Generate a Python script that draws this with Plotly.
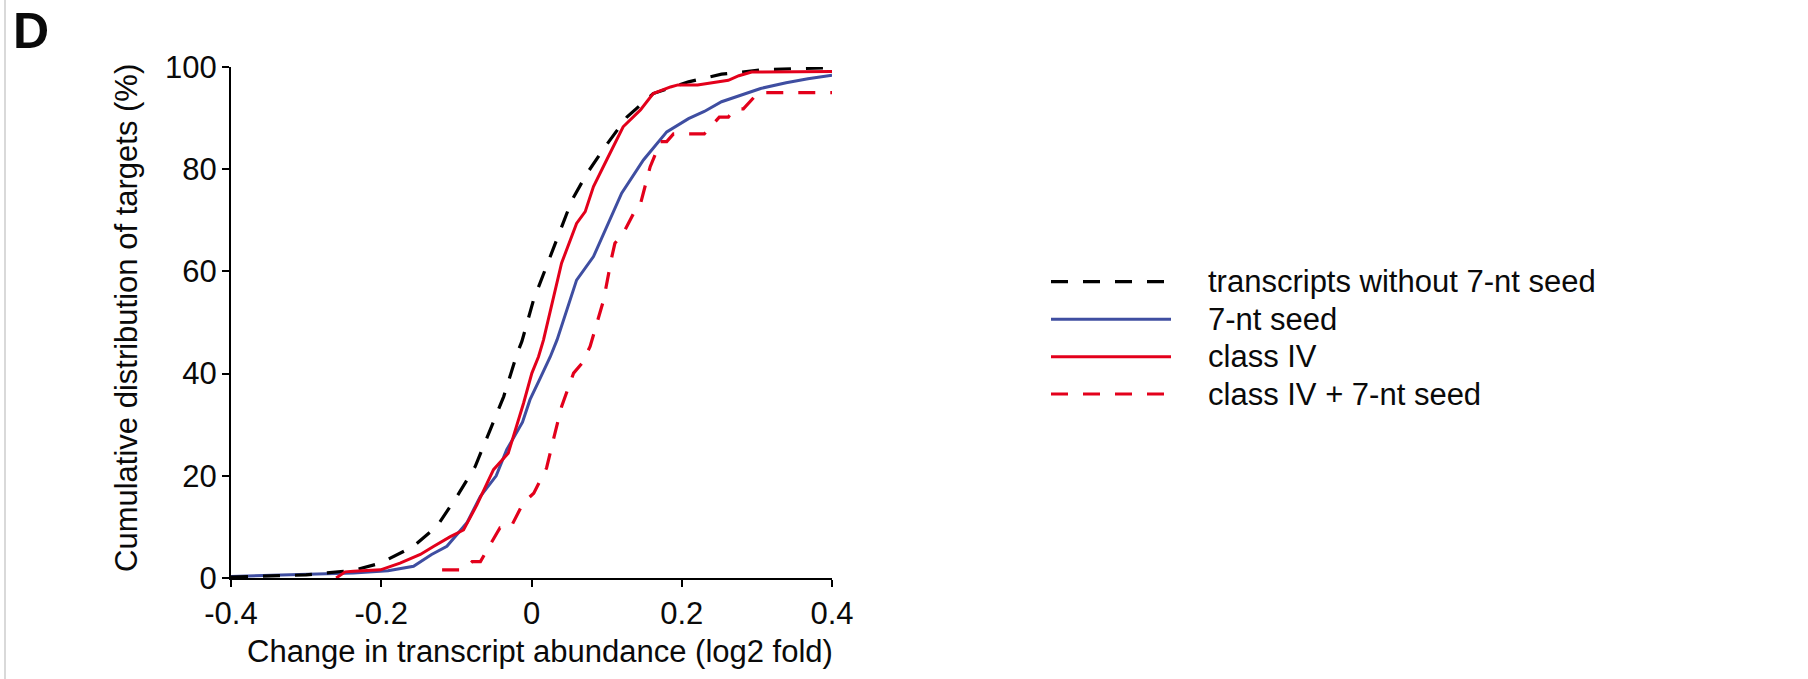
import plotly.graph_objects as go

# ---- data ----
x_without = [-0.4, -0.3, -0.237, -0.201, -0.157, -0.126, -0.099, -0.075, -0.055, -0.037, -0.019,
             -0.0128, 0.0027, 0.018, 0.036, 0.054, 0.074, 0.098, 0.127, 0.162, 0.209, 0.253, 0.311, 0.4]
y_without = [0.2, 0.6, 1.5, 2.9, 6.2, 10.1, 16.0, 21.8, 29.0, 35.5, 44.0,
             46.3, 54.4, 60.3, 67.4, 74.0, 79.2, 84.4, 90.2, 94.8, 97.1, 98.6, 99.5, 99.9]

x_seed = [-0.4, -0.352, -0.295, -0.237, -0.191, -0.157, -0.133, -0.1126, -0.086, -0.068, -0.047,
          -0.033, -0.012, -0.002, 0.011, 0.025, 0.034, 0.046, 0.06, 0.0825, 0.096, 0.12, 0.149, 0.18,
          0.209, 0.23, 0.253, 0.282, 0.305, 0.339, 0.368, 0.4]
y_seed = [0.3, 0.5, 0.7, 1.0, 1.4, 2.3, 4.6, 6.2, 10.8, 16.0, 20.0,
          25.1, 30.5, 34.9, 38.9, 43.3, 46.6, 52.2, 58.3, 62.9, 67.4, 75.3, 81.8, 87.3,
          89.9, 91.3, 93.2, 94.6, 95.8, 96.9, 97.7, 98.4]

x_class4 = [-0.26, -0.248, -0.237, -0.214, -0.201, -0.175, -0.148, -0.13, -0.108, -0.0905, -0.0727,
            -0.0506, -0.031, -0.0106, 0.0005, 0.0093, 0.016, 0.04, 0.06, 0.0715, 0.0825, 0.1,
            0.122, 0.145, 0.162, 0.185, 0.195, 0.221, 0.241, 0.262, 0.276, 0.293, 0.4]
y_class4 = [0.0, 1.2, 1.3, 1.4, 1.6, 2.9, 4.6, 6.2, 8.1, 9.4, 14.3,
            21.2, 24.4, 34.2, 40.1, 43.3, 46.6, 61.6, 69.4, 71.7, 76.6, 81.8,
            88.3, 91.6, 94.8, 96.1, 96.5, 96.5, 97.0, 97.4, 98.3, 99.0, 99.1]

x_class4_seed = [-0.119, -0.09, -0.079, -0.068, -0.046, -0.042, -0.028, -0.011, 0.003, 0.02, 0.029,
                 0.04, 0.056, 0.067, 0.078, 0.096, 0.107, 0.111, 0.122, 0.136, 0.144, 0.158, 0.167,
                 0.171, 0.18, 0.189, 0.23, 0.25, 0.262, 0.27, 0.282, 0.302, 0.4]
y_class4_seed = [1.6, 1.6, 3.2, 3.2, 8.8, 9.8, 9.8, 14.7, 16.6, 21.5, 27.0,
                 33.5, 40.1, 42.0, 45.3, 54.4, 62.9, 65.5, 67.4, 71.4, 72.6, 80.5, 83.7,
                 85.4, 85.4, 86.9, 86.9, 90.2, 90.2, 91.8, 91.8, 95.0, 95.0]

series_names = ["transcripts without 7-nt seed", "7-nt seed", "class IV", "class IV + 7-nt seed"]
x_ticks = [-0.4, -0.2, 0, 0.2, 0.4]
x_tick_labels = ["-0.4", "-0.2", "0", "0.2", "0.4"]
y_ticks = [0, 20, 40, 60, 80, 100]

# ---- styles ----
BLACK = "#000000"
BLUE = "#3f4ea1"
RED = "#e3001b"
TXT = "#0a0a0a"
FONT = "Liberation Sans, Arial, Helvetica, sans-serif"
FS = 31
styles = [
    dict(color=BLACK, width=3.2, dash="17px,15px"),
    dict(color=BLUE, width=3.0, dash="solid"),
    dict(color=RED, width=3.0, dash="solid"),
    dict(color=RED, width=3.2, dash="17px,15px"),
]
data = [(x_without, y_without), (x_seed, y_seed), (x_class4, y_class4), (x_class4_seed, y_class4_seed)]

W, H = 1808, 679
L, R, T, B = 231, 976, 67, 101
pw, ph = W - L - R, H - T - B

fig = go.Figure()
# draw order: blue, black, red dashed, red
for idx in [1, 0, 3, 2]:
    xs, ys = data[idx]
    fig.add_trace(go.Scatter(x=xs, y=ys, mode="lines", name=series_names[idx],
                             line=styles[idx], showlegend=False, hoverinfo="skip"))

def px_x(p):
    return (p - L) / pw

def px_y(p):
    return (H - B - p) / ph

shapes = []
annotations = []
# custom legend
legend_rows = [281.7, 319.3, 356.7, 394.0]
for i, name in enumerate(series_names):
    st = styles[i]
    shapes.append(dict(type="line", xref="paper", yref="paper",
                       x0=px_x(1051), x1=px_x(1171), y0=px_y(legend_rows[i]), y1=px_y(legend_rows[i]),
                       line=dict(color=st["color"], width=st["width"], dash=st["dash"])))
    annotations.append(dict(text=name, xref="paper", yref="paper", x=px_x(1206), y=px_y(legend_rows[i]),
                            xanchor="left", yanchor="middle", showarrow=False,
                            font=dict(family=FONT, size=FS, color=TXT)))

# left gray border line
shapes.append(dict(type="line", xref="paper", yref="paper", x0=px_x(5), x1=px_x(5),
                   y0=px_y(0), y1=px_y(H), line=dict(color="#d9d9d9", width=2)))

# panel letter
annotations.append(dict(text="<b>D</b>", xref="paper", yref="paper", x=px_x(11), y=px_y(31),
                        xanchor="left", yanchor="middle", showarrow=False,
                        font=dict(family=FONT, size=50, color=TXT)))
# axis titles
annotations.append(dict(text="Change in transcript abundance (log2 fold)", xref="paper", yref="paper",
                        x=px_x(540), y=px_y(652), xanchor="center", yanchor="middle", showarrow=False,
                        font=dict(family=FONT, size=FS, color=TXT)))
annotations.append(dict(text="Cumulative distribution of targets (%)", xref="paper", yref="paper",
                        x=px_x(126), y=px_y(318), xanchor="center", yanchor="middle", showarrow=False,
                        textangle=-90, font=dict(family=FONT, size=FS, color=TXT)))

fig.update_layout(
    width=W, height=H,
    margin=dict(l=L, r=R, t=T, b=B, pad=0),
    paper_bgcolor="white", plot_bgcolor="white",
    font=dict(family=FONT, size=FS, color=TXT),
    shapes=shapes, annotations=annotations,
    showlegend=False,
    xaxis=dict(range=[-0.4, 0.4], tickvals=x_ticks, ticktext=x_tick_labels,
               showgrid=False, zeroline=False, showline=True, linecolor=BLACK, linewidth=2,
               ticks="outside", ticklen=7, tickwidth=2, tickcolor=BLACK,
               tickfont=dict(family=FONT, size=FS, color=TXT)),
    yaxis=dict(range=[0, 100], tickvals=y_ticks,
               showgrid=False, zeroline=False, showline=True, linecolor=BLACK, linewidth=2,
               ticks="outside", ticklen=7, tickwidth=2, tickcolor=BLACK,
               ticklabelstandoff=-1,
               tickfont=dict(family=FONT, size=FS, color=TXT)),
)

fig.write_html("out.html")
